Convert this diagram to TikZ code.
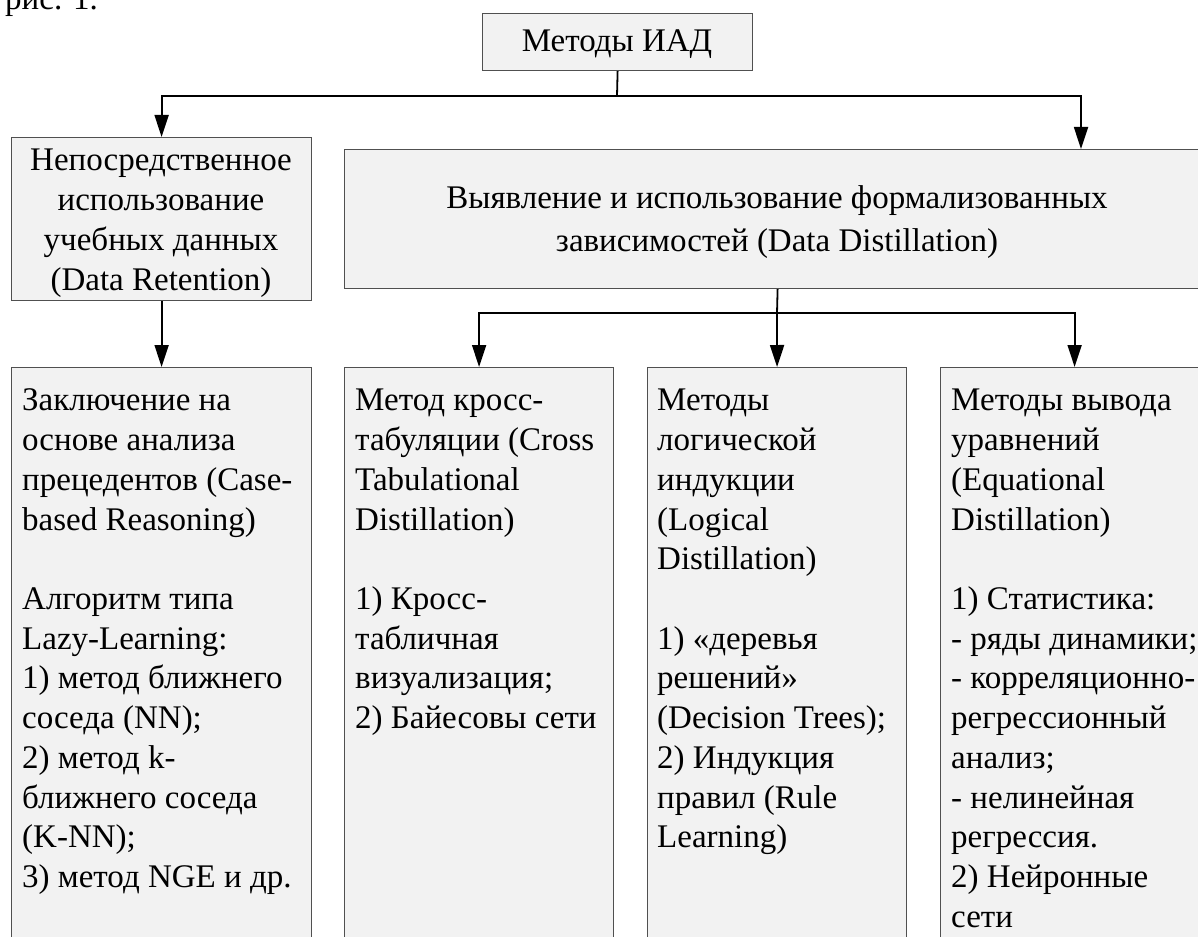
\documentclass[tikz,border=0pt]{standalone}
\usepackage{fontspec}
\setmainfont{Liberation Serif}
\usetikzlibrary{arrows.meta,calc}
\definecolor{boxfill}{HTML}{F2F2F2}
\definecolor{boxline}{HTML}{505050}
\tikzset{
  box/.style={draw=boxline, fill=boxfill, line width=1.2pt, inner sep=0pt, anchor=north west},
  txt/.style={inner sep=0pt, font=\fontsize{33}{39.7}\selectfont},
  conn/.style={line width=1.8pt, draw=black},
  arr/.style={conn, -{Triangle[length=22pt,width=14pt]}},
}
\begin{document}
\begin{tikzpicture}[x=1pt,y=-1pt]
\useasboundingbox (0,0) rectangle (1198,936);
% caption fragment at top
\node[txt, anchor=base west] (cap) at (5,10) {рис. 1.};
% boxes
\node[box, minimum width=270pt, minimum height=57pt] (top) at (482,13) {};
\node[box, minimum width=300pt, minimum height=163pt] (b1) at (11,137) {};
\node[box, minimum width=866pt, minimum height=139pt] (b2) at (344,149) {};
\node[box, minimum width=300pt, minimum height=590pt] (bA) at (11,367) {};
\node[box, minimum width=269pt, minimum height=590pt] (bB) at (344,367) {};
\node[box, minimum width=259pt, minimum height=590pt] (bC) at (647,367) {};
\node[box, minimum width=268pt, minimum height=590pt] (bD) at (940,367) {};
% texts
\node[txt, anchor=north] (ttop) at (617,24) {\strut Методы ИАД};
\node[txt, anchor=north, align=center] (t1) at (161,143) {\strut Непосредственное\\использование\\учебных данных\\(Data Retention)};
\node[txt, anchor=north, align=center] (t2) at (777,181) {\strut Выявление и использование формализованных\\[3pt]зависимостей (Data Distillation)};
\node[txt, anchor=north west, align=left] (tA) at (22,383) {\strut Заключение на\\основе анализа\\прецедентов (Case-\\based Reasoning)\\[39.7pt]Алгоритм типа\\Lazy-Learning:\\1) метод ближнего\\соседа (NN);\\2) метод k-\\ближнего соседа\\(K-NN);\\3) метод NGE и др.};
\node[txt, anchor=north west, align=left] (tB) at (355,383) {\strut Метод кросс-\\табуляции (Cross\\Tabulational\\Distillation)\\[39.7pt]1) Кросс-\\табличная\\визуализация;\\2) Байесовы сети};
\node[txt, anchor=north west, align=left] (tC) at (657,383) {\strut Методы\\логической\\индукции\\(Logical\\Distillation)\\[39.7pt]1) «деревья\\решений»\\(Decision Trees);\\2) Индукция\\правил (Rule\\Learning)};
\node[txt, anchor=north west, align=left] (tD) at (951,383) {\strut Методы вывода\\уравнений\\(Equational\\Distillation)\\[39.7pt]1) Статистика:\\- ряды динамики;\\- корреляционно-\\регрессионный\\анализ;\\- нелинейная\\регрессия.\\2) Нейронные\\сети};
% connectors
\coordinate (j1) at (617,96);
\coordinate (b2in) at (1081,149);
\coordinate (j2) at (777,313);
\draw[conn] (top.south) -- (j1);
\draw[arr] (j1) -| (b1.north);
\draw[arr] (j1) -| (b2in);
\draw[arr] (b1.south) -- (bA.north);
\draw[conn] (b2.south) -- (j2);
\draw[arr] (j2) -| (bB.north);
\draw[arr] (j2) -- (bC.north);
\draw[arr] (j2) -| (bD.north);
\end{tikzpicture}
\end{document}
